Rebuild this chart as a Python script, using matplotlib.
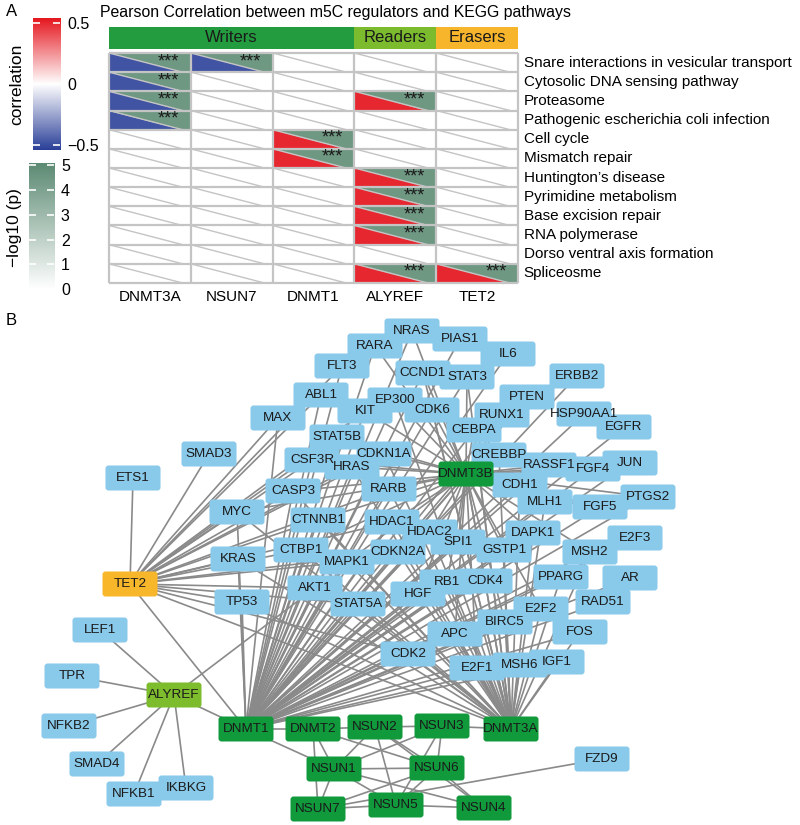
import matplotlib
matplotlib.use("Agg")
import matplotlib.pyplot as plt
import numpy as np
from matplotlib.colors import LinearSegmentedColormap
from matplotlib.patches import Polygon, Rectangle, FancyBboxPatch
from matplotlib.collections import LineCollection

plt.rcParams['font.family'] = ['Liberation Sans', 'DejaVu Sans']

# ---------------- panel A data ----------------
regulators = ['DNMT3A', 'NSUN7', 'DNMT1', 'ALYREF', 'TET2']
group_names = ['Writers', 'Readers', 'Erasers']
group_sizes = [3, 1, 1]
pathways = ['Snare interactions in vesicular transport',
            'Cytosolic DNA sensing pathway',
            'Proteasome',
            'Pathogenic escherichia coli infection',
            'Cell cycle',
            'Mismatch repair',
            'Huntington\u2019s disease',
            'Pyrimidine metabolism',
            'Base excision repair',
            'RNA polymerase',
            'Dorso ventral axis formation',
            'Spliceosme']
# significant cells (pathway index, regulator index, r, -log10 p)
sig_row = [0, 1, 2, 3, 0, 4, 5, 2, 6, 7, 8, 9, 11, 11]
sig_col = [0, 0, 0, 0, 1, 2, 2, 3, 3, 3, 3, 3, 3, 4]
sig_cor = [-0.48, -0.48, -0.48, -0.48, -0.48, 0.5, 0.5, 0.5, 0.5, 0.5, 0.5, 0.5, 0.5, 0.5]
sig_logp = [4.5] * 14

# ---------------- panel B data ----------------
node_pos = {
    'ETS1': (133, 478), 'SMAD3': (209, 454), 'MAX': (278, 418), 'ABL1': (321, 395),
    'FLT3': (342, 366), 'RARA': (375, 346), 'NRAS': (412, 331), 'PIAS1': (460, 339),
    'IL6': (508, 354), 'CCND1': (423, 373), 'STAT3': (467, 377), 'ERBB2': (577, 376),
    'PTEN': (527, 397), 'EP300': (395, 400), 'KIT': (365, 411), 'CDK6': (432, 410),
    'RUNX1': (502, 415), 'HSP90AA1': (584, 414), 'EGFR': (624, 427), 'CEBPA': (474, 430),
    'STAT5B': (337, 437), 'CDKN1A': (384, 454), 'CREBBP': (499, 455), 'CSF3R': (312, 460),
    'HRAS': (352, 467), 'RASSF1': (549, 465), 'FGF4': (593, 469),
    'JUN': (630, 463), 'RARB': (389, 489), 'CASP3': (293, 491), 'CDH1': (520, 485),
    'MLH1': (545, 502), 'FGF5': (600, 507), 'PTGS2': (648, 497), 'MYC': (237, 512),
    'CTNNB1': (318, 520), 'HDAC1': (392, 522), 'HDAC2': (430, 532), 'SPI1': (458, 542),
    'DAPK1': (533, 533), 'E2F3': (635, 538), 'KRAS': (238, 559), 'CTBP1': (301, 550),
    'CDKN2A': (398, 552), 'MAPK1': (347, 562), 'GSTP1': (504, 550), 'MSH2': (590, 552),
    'PPARG': (561, 577), 'AR': (630, 578), 'AKT1': (315, 588), 'TP53': (242, 602),
    'STAT5A': (358, 604), 'HGF': (418, 594), 'RB1': (447, 582), 'CDK4': (485, 581),
    'RAD51': (603, 602), 'E2F2': (541, 609), 'BIRC5': (505, 622), 'APC': (455, 634),
    'FOS': (580, 632), 'CDK2': (408, 654), 'E2F1': (477, 668), 'MSH6': (520, 665),
    'IGF1': (557, 662), 'LEF1': (100, 630), 'TPR': (72, 676), 'NFKB2': (69, 726),
    'SMAD4': (97, 764), 'NFKB1': (134, 794), 'IKBKG': (186, 788), 'FZD9': (602, 759),
    'DNMT3B': (466, 474), 'TET2': (130, 584), 'ALYREF': (174, 695),
    'DNMT1': (246, 729), 'DNMT2': (313, 729), 'NSUN2': (375, 727), 'NSUN1': (334, 769),
    'NSUN7': (318, 809), 'NSUN3': (442, 726), 'DNMT3A': (511, 729), 'NSUN6': (437, 768),
    'NSUN5': (396, 805), 'NSUN4': (484, 808),
}
writers = ['DNMT1', 'DNMT2', 'DNMT3A', 'DNMT3B', 'NSUN1', 'NSUN2', 'NSUN3',
           'NSUN4', 'NSUN5', 'NSUN6', 'NSUN7']
readers = ['ALYREF']
erasers = ['TET2']

links = {
    'TET2': ['ETS1', 'SMAD3', 'MAX', 'ABL1', 'FLT3', 'KIT', 'STAT5B', 'CSF3R', 'CASP3',
             'MYC', 'CTNNB1', 'HRAS', 'CDKN1A', 'RARB', 'CTBP1', 'KRAS', 'MAPK1',
             'CDKN2A', 'HDAC1', 'TP53', 'AKT1', 'STAT5A', 'CDK2', 'DNMT1', 'DNMT3A'],
    'ALYREF': ['LEF1', 'TPR', 'NFKB2', 'SMAD4', 'NFKB1', 'IKBKG', 'DNMT1', 'AKT1'],
    'DNMT1': ['MAX', 'ABL1', 'FLT3', 'RARA', 'NRAS', 'KIT', 'STAT5B', 'CSF3R', 'HRAS',
              'CASP3', 'MYC', 'CTNNB1', 'CTBP1', 'MAPK1', 'AKT1', 'STAT5A', 'KRAS', 'TP53',
              'HDAC1', 'HDAC2', 'CDKN2A', 'CDKN1A', 'RARB', 'SPI1', 'GSTP1', 'HGF', 'RB1',
              'CDK4', 'APC', 'CDK2', 'E2F1', 'BIRC5', 'E2F2', 'DAPK1', 'MLH1', 'CDH1',
              'RASSF1', 'MSH2', 'PPARG', 'RAD51', 'FOS', 'EGFR', 'PTEN', 'ERBB2', 'JUN',
              'E2F3', 'AR', 'PTGS2', 'FGF5', 'IGF1', 'MSH6', 'CEBPA', 'CREBBP', 'EP300',
              'CDK6', 'CCND1', 'STAT3', 'PIAS1', 'HSP90AA1', 'RUNX1', 'DNMT3B', 'FGF4', 'IL6'],
    'DNMT3A': ['E2F1', 'MSH6', 'IGF1', 'BIRC5', 'E2F2', 'APC', 'CDK2', 'CDK4', 'RB1', 'HGF',
               'GSTP1', 'SPI1', 'HDAC2', 'HDAC1', 'CDKN2A', 'MAPK1', 'STAT5A', 'AKT1',
               'CTBP1', 'CTNNB1', 'KRAS', 'MYC', 'CASP3', 'TP53', 'RARB', 'HRAS', 'CDKN1A',
               'DAPK1', 'MLH1', 'CDH1', 'CREBBP', 'CEBPA', 'FOS', 'PPARG', 'MSH2', 'DNMT3B',
               'CCND1', 'EP300', 'CDK6', 'STAT3'],
    'DNMT3B': ['RASSF1', 'CDH1', 'MLH1', 'FGF4', 'FGF5', 'JUN', 'PTGS2', 'DAPK1', 'GSTP1',
               'SPI1', 'HDAC2', 'HDAC1', 'CDKN2A', 'RB1', 'CDK4', 'HGF', 'APC', 'BIRC5',
               'E2F2', 'E2F1', 'MSH2', 'CREBBP', 'CEBPA', 'RUNX1', 'CDK6', 'EP300', 'CCND1',
               'STAT3', 'NRAS', 'RARA', 'KIT', 'CDKN1A', 'HRAS', 'RARB', 'CASP3', 'STAT5B',
               'CSF3R', 'CTNNB1', 'MAPK1', 'CTBP1', 'MYC'],
    'DNMT2': ['DNMT1', 'NSUN2', 'NSUN1', 'NSUN7', 'NSUN6'],
    'NSUN1': ['DNMT1', 'NSUN2', 'NSUN3', 'NSUN6', 'NSUN7', 'NSUN5', 'NSUN4'],
    'NSUN2': ['NSUN3', 'NSUN6', 'NSUN5', 'NSUN4'],
    'NSUN3': ['DNMT3A', 'NSUN6', 'NSUN5'],
    'NSUN6': ['NSUN5', 'NSUN7', 'NSUN4'],
    'NSUN5': ['NSUN7', 'NSUN4'],
    'NSUN7': ['FZD9'],
}

# ---------------- figure ----------------
fig = plt.figure(figsize=(8, 8.25), dpi=100)
W, H = 800.0, 825.0

def rect(x0, y0, w, h):
    return [x0 / W, 1 - (y0 + h) / H, w / W, h / H]

# network axes (pixel-like layout coordinates)
axn = fig.add_axes([0, 0, 1, 1], zorder=0)
axn.set_xlim(0, W)
axn.set_ylim(H, 0)
axn.axis('off')

segs = []
for src, tgts in links.items():
    for t in tgts:
        segs.append([node_pos[src], node_pos[t]])
axn.add_collection(LineCollection(segs, colors='#8a8a8a', linewidths=1.2, zorder=1))

bw, bh = 55, 25
for name, (x, y) in node_pos.items():
    if name in writers:
        fc = '#109a3c'
    elif name in readers:
        fc = '#7dbc2c'
    elif name in erasers:
        fc = '#f8b62a'
    else:
        fc = '#89c9ea'
    axn.add_patch(FancyBboxPatch((x - bw / 2, y - bh / 2), bw, bh,
                                 boxstyle='round,pad=0,rounding_size=3',
                                 fc=fc, ec='none', zorder=2))
for name, (x, y) in node_pos.items():
    axn.text(x, y, name, ha='center', va='center', fontsize=9.7, color='#1a1a1a', zorder=3)

fig.text(6 / W, 1 - 12 / H, 'A', fontsize=12, va='center', ha='left')
fig.text(6 / W, 1 - 320 / H, 'B', fontsize=12, va='center', ha='left')
fig.text(100 / W, 1 - 12 / H, 'Pearson Correlation between m5C regulators and KEGG pathways',
         fontsize=11.4, va='center', ha='left')

# heatmap
cmap_cor = LinearSegmentedColormap.from_list('cor', ['#2a3f98', '#ffffff', '#e5171f'])
cmap_p = LinearSegmentedColormap.from_list('p', ['#ffffff', '#5c8a73'])
nrow, ncol = len(pathways), len(regulators)

axh = fig.add_axes(rect(109, 53, 409, 230))
axh.set_xlim(0, ncol)
axh.set_ylim(nrow, 0)
axh.axis('off')

tip = 0.9
for r, c, cv, pv in zip(sig_row, sig_col, sig_cor, sig_logp):
    axh.add_patch(Polygon([(c, r), (c, r + 1), (c + tip, r + 1)], closed=True,
                          fc=cmap_cor((cv + 0.54) / 1.08), ec='none'))
    axh.add_patch(Polygon([(c, r), (c + 1, r), (c + 1, r + 1), (c + tip, r + 1)], closed=True,
                          fc=cmap_p(pv / 5.12), ec='none'))
    axh.text(c + 0.73, r + 0.45, '***', ha='center', va='center', fontsize=13, color='#1a1a1a')
for r in range(nrow):
    for c in range(ncol):
        axh.plot([c, c + tip], [r, r + 1], color='#c4c4c4', lw=1.0)
axh.hlines(np.arange(nrow + 1), 0, ncol, color='#c4c4c4', lw=1.6, clip_on=False)
axh.vlines(np.arange(ncol + 1), 0, nrow, color='#c4c4c4', lw=1.6, clip_on=False)
for r, name in enumerate(pathways):
    axh.text(ncol + 0.07, r + 0.5, name, ha='left', va='center', fontsize=11, clip_on=False)
for c, name in enumerate(regulators):
    axh.text(c + 0.5, nrow + 0.75, name, ha='center', va='center', fontsize=11, clip_on=False)

# group header
axg = fig.add_axes(rect(109, 27, 409, 22))
axg.set_xlim(0, ncol)
axg.set_ylim(0, 1)
axg.axis('off')
group_colors = ['#239b3f', '#7cbb2e', '#f7b52c']
start = 0
for g, n, col in zip(group_names, group_sizes, group_colors):
    axg.add_patch(Rectangle((start, 0), n, 1, fc=col, ec='none'))
    axg.text(start + n / 2, 0.5, g, ha='center', va='center', fontsize=12, color='#1a1a1a')
    start += n

# colour bars
cax1 = fig.add_axes(rect(33, 18, 27, 132))
grad = np.linspace(-0.54, 0.54, 256).reshape(-1, 1)
cax1.imshow(grad, aspect='auto', cmap=cmap_cor, origin='lower', extent=[0, 1, -0.54, 0.54])
cax1.set_xticks([])
cax1.yaxis.tick_right()
cax1.set_yticks([-0.5, 0, 0.5])
cax1.set_yticklabels(['\u22120.5', '0', '0.5'])
cax1.tick_params(axis='y', direction='in', length=5, width=1.2, color='white',
                 left=True, right=True, labelsize=11.5, pad=5)
for s in cax1.spines.values():
    s.set_visible(False)
fig.text(17 / W, 1 - 84 / H, 'correlation', rotation=90, ha='center', va='center', fontsize=12.5)

cax2 = fig.add_axes(rect(29, 163, 25, 126))
grad2 = np.linspace(0, 5.1, 256).reshape(-1, 1)
cax2.imshow(grad2, aspect='auto', cmap=cmap_p, origin='lower', extent=[0, 1, 0, 5.1])
cax2.set_xticks([])
cax2.yaxis.tick_right()
cax2.set_yticks([0, 1, 2, 3, 4, 5])
cax2.tick_params(axis='y', direction='in', length=5, width=1.2, color='white',
                 left=True, right=True, labelsize=11.5, pad=5)
for s in cax2.spines.values():
    s.set_visible(False)
fig.text(15 / W, 1 - 228 / H, '\u2212log10 (p)', rotation=90, ha='center', va='center', fontsize=12.5)

fig.savefig('out.png', dpi=100)
